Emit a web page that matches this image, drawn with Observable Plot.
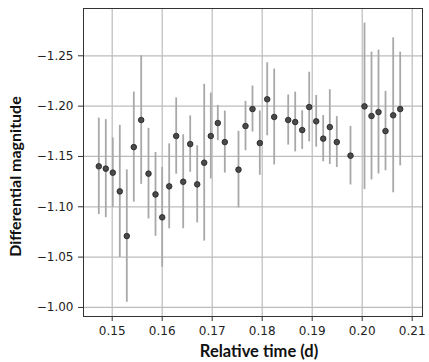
<!DOCTYPE html>
<html><head><meta charset="utf-8">
<script src="https://cdn.jsdelivr.net/npm/d3@7"></script>
<script src="https://cdn.jsdelivr.net/npm/@observablehq/plot@0.6"></script>
<style>body{margin:0;background:#fff;} svg{display:block;}</style>
</head><body><div id="chart"></div>
<script>
const time = [0.14732,0.14872,0.15012,0.15152,0.15292,0.15432,0.1558,0.15726,0.15866,0.16,
  0.1614,0.1628,0.1642,0.1656,0.167,0.1684,0.16972,0.17112,0.17252,0.17526,
  0.17666,0.17806,0.17952,0.181,0.1824,0.1852,0.1866,0.188,0.1894,0.1908,
  0.1922,0.19352,0.19492,0.19766,0.20046,0.20186,0.20326,0.20466,0.2062,0.2076];
const mag = [-1.1402,-1.1379,-1.1339,-1.1153,-1.0709,-1.1593,-1.1862,-1.1329,-1.1123,-1.0895,
  -1.1203,-1.1703,-1.1249,-1.1623,-1.1223,-1.1438,-1.1703,-1.1832,-1.1643,-1.1369,
  -1.1802,-1.1971,-1.1633,-1.2068,-1.1892,-1.1862,-1.1842,-1.1762,-1.1991,-1.1849,
  -1.1677,-1.1792,-1.1643,-1.1508,-1.1998,-1.1902,-1.1941,-1.1752,-1.1909,-1.1971];
const err = [0.0479,0.0487,0.0345,0.0656,0.0658,0.0547,0.0639,0.045,0.0416,0.0496,
  0.0422,0.0379,0.0467,0.028,0.0383,0.0779,0.0427,0.0175,0.0308,0.038,
  0.0245,0.0229,0.032,0.0363,0.0476,0.0249,0.0297,0.0192,0.0346,0.0257,
  0.023,0.0371,0.0253,0.0291,0.0827,0.0635,0.0615,0.0394,0.077,0.0565];
const xTicks = [0.15,0.16,0.17,0.18,0.19,0.20,0.21];
const xTickLabels = ["0.15","0.16","0.17","0.18","0.19","0.20","0.21"];
const yTicks = [-1.00,-1.05,-1.10,-1.15,-1.20,-1.25];
const yTickLabels = ["\u22121.00","\u22121.05","\u22121.10","\u22121.15","\u22121.20","\u22121.25"];
const xLabel = "Relative time (d)";
const yLabel = "Differential magnitude";

const data = time.map((t,i)=>({t, m: mag[i], lo: mag[i]-err[i], hi: mag[i]+err[i]}));

const chart = Plot.plot({
  width: 429, height: 362,
  marginLeft: 83, marginRight: 7, marginTop: 8, marginBottom: 46,
  style: {fontFamily: "DejaVu Sans", fontSize: "12px", color: "#222", background: "#fff"},
  x: {domain: [0.14426, 0.21206]},
  y: {domain: [-0.991, -1.297]},
  marks: [
    Plot.gridX(xTicks, {stroke: "#bcbcbc", strokeOpacity: 1, strokeWidth: 1.2}),
    Plot.gridY(yTicks, {stroke: "#bcbcbc", strokeOpacity: 1, strokeWidth: 1.2}),
    Plot.axisX(xTicks, {tickFormat: (d,i)=>xTickLabels[i], tickSize: 5, tickPadding: 5, label: null, stroke: "#333", fill: "#222", fontSize: 12}),
    Plot.axisY(yTicks, {tickFormat: (d,i)=>yTickLabels[i], tickSize: 5, tickPadding: 5, label: null, stroke: "#333", fill: "#222", fontSize: 12}),
    Plot.ruleX(data, {x: "t", y1: "lo", y2: "hi", stroke: "#a8a8a8", strokeWidth: 1.8}),
    Plot.dot(data, {x: "t", y: "m", r: 2.8, fill: "#4a4a4a", stroke: "#222", strokeWidth: 0.8}),
    Plot.frame({stroke: "#333", strokeWidth: 1}),
    Plot.text([xLabel], {frameAnchor: "bottom", textAnchor: "middle", dy: 40, dx: 6, text: d=>d, fontFamily: "Lato", fontWeight: "bold", fontSize: 16.5, fill: "#111"}),
    Plot.text([yLabel], {frameAnchor: "left", textAnchor: "middle", dx: -68, dy: 14, rotate: -90, text: d=>d, fontFamily: "Lato", fontWeight: "bold", fontSize: 16, fill: "#111"})
  ]
});
document.getElementById("chart").appendChild(chart);
</script>
</body></html>
